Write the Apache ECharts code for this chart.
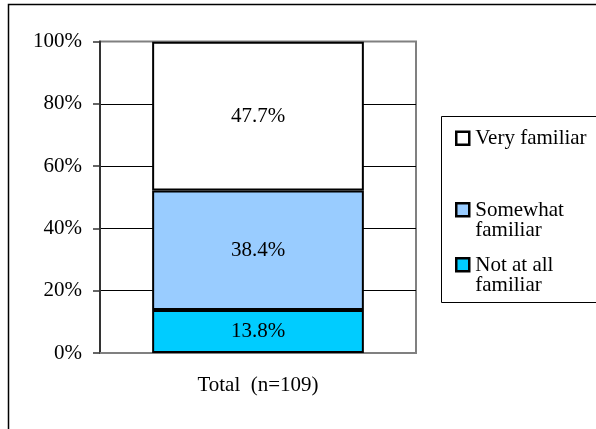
<!DOCTYPE html>
<html>
<head>
<meta charset="utf-8">
<script src="https://cdn.jsdelivr.net/npm/echarts@6/dist/echarts.min.js"></script>
<style>
html,body{margin:0;padding:0;background:#fff;}
#chart{width:596px;height:429px;}
</style>
</head>
<body>
<div id="chart"></div>
<script>
const categories = ['Total  (n=109)'];
const seriesNames = ['Not at all familiar', 'Somewhat familiar', 'Very familiar'];
const notAtAll = [13.8];
const somewhat = [38.4];
const veryFamiliar = [47.7];
const yTicks = [0, 20, 40, 60, 80, 100];

const FONT = 'Liberation Serif';
const FS = 21;
const colors = ['#00CCFF', '#99CCFF', '#FFFFFF'];
const values = [notAtAll, somewhat, veryFamiliar];

const chart = echarts.init(document.getElementById('chart'), null, {renderer: 'canvas'});

const legendWrap = {
  'Very familiar': 'Very familiar',
  'Somewhat familiar': 'Somewhat\nfamiliar',
  'Not at all familiar': 'Not at all\nfamiliar'
};
const iconOne = 'path://M0,0 M15,21 M1,4h13v13h-13z';
const iconTwo = 'path://M0,0 M15,42 M1,4h13v13h-13z';

function makeLegend(name, top, twoLines) {
  return {
    data: [name],
    orient: 'vertical',
    left: 454,
    top: top,
    padding: 0,
    itemWidth: 15,
    itemHeight: twoLines ? 42 : 21,
    itemGap: 6,
    icon: twoLines ? iconTwo : iconOne,
    selectedMode: false,
    itemStyle: {borderColor: '#000', borderWidth: 2.5},
    formatter: n => legendWrap[n],
    textStyle: {fontFamily: FONT, fontSize: FS, color: '#000', lineHeight: 20.5}
  };
}

chart.setOption({
  animation: false,
  backgroundColor: '#fff',
  graphic: [
    {type: 'rect', shape: {x: 8.5, y: 4.5, width: 1000, height: 1000},
     style: {fill: 'none', stroke: '#000', lineWidth: 1.5}, z: 100, silent: true},
    {type: 'rect', shape: {x: 441.5, y: 116.5, width: 300, height: 186},
     style: {fill: 'none', stroke: '#000', lineWidth: 1}, z: 100, silent: true}
  ],
  legend: [
    makeLegend('Very familiar', 126.5, false),
    makeLegend('Somewhat familiar', 198, true),
    makeLegend('Not at all familiar', 253, true)
  ],
  grid: {
    left: 100, right: 180, top: 41.5, bottom: 76,
    show: true, borderColor: '#808080', borderWidth: 2, backgroundColor: 'transparent'
  },
  xAxis: {
    type: 'category',
    data: categories,
    axisLine: {show: true, lineStyle: {color: '#808080', width: 2}},
    axisTick: {show: false},
    axisLabel: {fontFamily: FONT, fontSize: FS, color: '#000', margin: 22}
  },
  yAxis: {
    type: 'value',
    min: yTicks[0],
    max: yTicks[yTicks.length - 1],
    interval: yTicks[1] - yTicks[0],
    axisLine: {show: true, lineStyle: {color: '#333', width: 2}},
    axisTick: {show: true, length: 7, lineStyle: {color: '#333', width: 1.5}},
    axisLabel: {fontFamily: FONT, fontSize: FS, color: '#000', margin: 18, formatter: '{value}%'},
    splitLine: {show: true, showMinLine: false, showMaxLine: false, lineStyle: {color: '#000', width: 1}}
  },
  series: seriesNames.map((name, i) => ({
    name: name,
    type: 'bar',
    stack: 'total',
    barWidth: '67%',
    data: values[i],
    itemStyle: {color: colors[i], borderColor: '#000', borderWidth: 2},
    label: {
      show: true,
      position: 'inside',
      fontFamily: FONT,
      fontSize: FS,
      color: '#000',
      formatter: p => p.value.toFixed(1) + '%'
    }
  }))
});
</script>
</body>
</html>
